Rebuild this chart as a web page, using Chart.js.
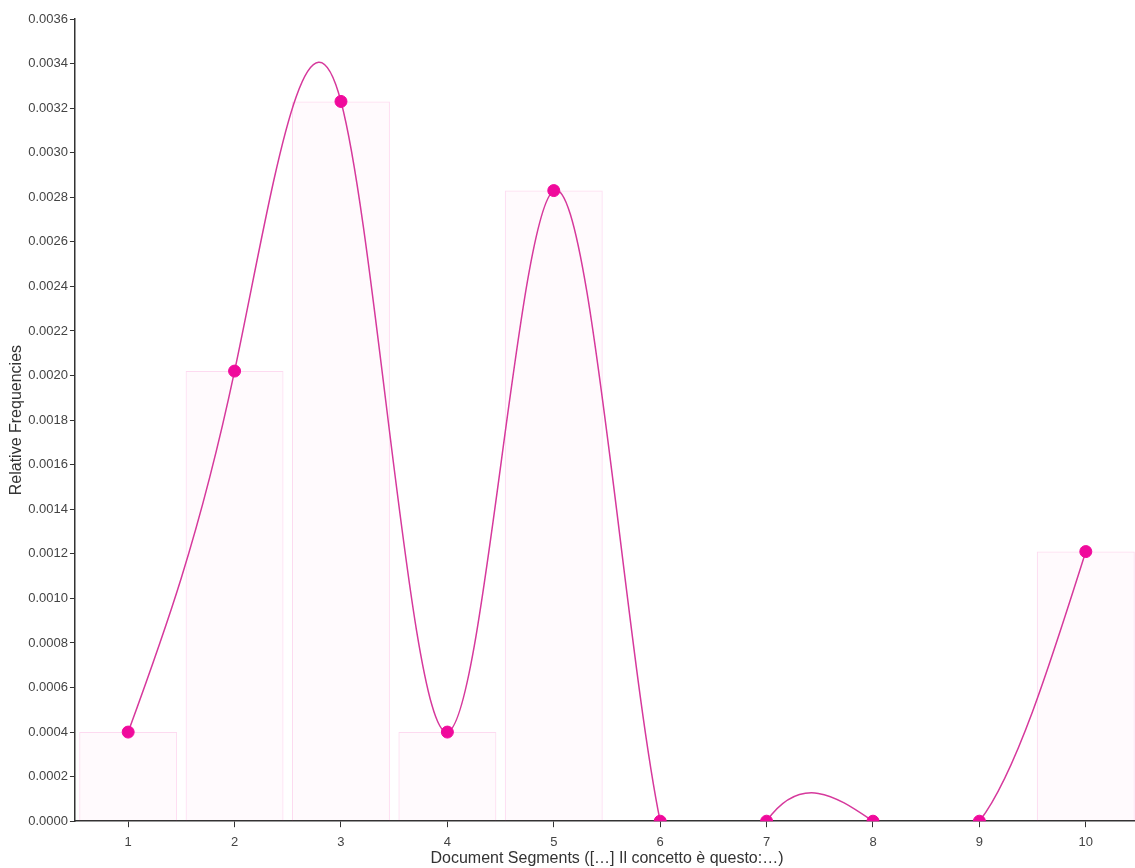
<!DOCTYPE html>
<html lang="en">
<head>
    <meta charset="UTF-8">
    <title>Relative Frequencies</title>
    <script src="https://cdn.jsdelivr.net/npm/chart.js"></script>
    <style>
        html, body { margin: 0; padding: 0; background: #fff; overflow: hidden; }
        #wrap { position: relative; width: 1146px; height: 868px; }
    </style>
</head>
<body>
    <div id="wrap">
        <canvas id="freqChart"></canvas>
    </div>
    <script>
        // Segments and their relative frequencies
        const segments = ['1', '2', '3', '4', '5', '6', '7', '8', '9', '10'];
        const frequencies = [0.0004, 0.00202, 0.00323, 0.0004, 0.00283, 0, 0, 0, 0, 0.00121];
        const yMax = 0.0036;
        const yStep = 0.0002;

        const axisColor = '#333';
        const lineColor = '#d6399c';
        const tickFont = { family: 'Liberation Sans, Arial, sans-serif', size: 13 };
        const titleFont = { family: 'Liberation Sans, Arial, sans-serif', size: 16 };

        // natural cubic spline control points (same maths as d3.curveNatural)
        function controlPoints(x) {
            const n = x.length - 1;
            const a = new Array(n), b = new Array(n), r = new Array(n);
            a[0] = 0; b[0] = 2; r[0] = x[0] + 2 * x[1];
            for (let i = 1; i < n - 1; ++i) { a[i] = 1; b[i] = 4; r[i] = 4 * x[i] + 2 * x[i + 1]; }
            a[n - 1] = 2; b[n - 1] = 7; r[n - 1] = 8 * x[n - 1] + x[n];
            for (let i = 1; i < n; ++i) {
                const m = a[i] / b[i - 1];
                b[i] -= m;
                r[i] -= m * r[i - 1];
            }
            a[n - 1] = r[n - 1] / b[n - 1];
            for (let i = n - 2; i >= 0; --i) a[i] = (r[i] - a[i + 1]) / b[i];
            b[n - 1] = (x[n] + a[n - 1]) / 2;
            for (let i = 0; i < n - 1; ++i) b[i] = 2 * x[i + 1] - a[i + 1];
            return [a, b];
        }

        // draws the smooth line under the points of the line dataset
        const naturalCurve = {
            id: 'naturalCurve',
            beforeDatasetDraw(chart, args) {
                if (args.index !== 0) return;
                const { ctx, chartArea, scales } = chart;
                const xs = frequencies.map((v, i) => scales.x.getPixelForValue(i));
                const ys = frequencies.map(v => scales.y.getPixelForValue(v));
                const px = controlPoints(xs), py = controlPoints(ys);
                ctx.save();
                ctx.beginPath();
                ctx.rect(chartArea.left, chartArea.top, chartArea.right - chartArea.left, chartArea.bottom - chartArea.top);
                ctx.clip();
                ctx.beginPath();
                ctx.moveTo(xs[0], ys[0]);
                for (let i = 0; i < xs.length - 1; i++) {
                    ctx.bezierCurveTo(px[0][i], py[0][i], px[1][i], py[1][i], xs[i + 1], ys[i + 1]);
                }
                ctx.strokeStyle = lineColor;
                ctx.lineWidth = 1.5;
                ctx.stroke();
                ctx.restore();
            }
        };

        const ctx = document.getElementById('freqChart').getContext('2d');
        new Chart(ctx, {
            type: 'bar',
            data: {
                labels: segments,
                datasets: [{
                    type: 'line',
                    data: frequencies,
                    showLine: false,
                    borderColor: lineColor,
                    pointBackgroundColor: '#f00a9c',
                    pointBorderColor: '#f00a9c',
                    pointRadius: 6,
                    fill: false,
                    order: 0
                }, {
                    data: frequencies,
                    backgroundColor: 'rgba(240, 10, 156, 0.02)',
                    borderColor: 'rgba(240, 10, 156, 0.15)',
                    borderWidth: 1,
                    barPercentage: 0.92,
                    categoryPercentage: 1,
                    order: 1
                }]
            },
            options: {
                responsive: true,
                maintainAspectRatio: false,
                animation: false,
                layout: { padding: { top: 19, right: 0, bottom: 0, left: 7 } },
                scales: {
                    x: {
                        offset: true,
                        grid: { display: true, drawOnChartArea: false, tickLength: 6, color: axisColor, offset: false },
                        border: { color: axisColor, width: 1.5 },
                        ticks: { color: '#444', font: tickFont, padding: 7, maxRotation: 0 },
                        title: {
                            display: true,
                            text: 'Document Segments ([…] Il concetto è questo:…)',
                            color: '#333',
                            font: Object.assign({ lineHeight: 0.2 }, titleFont),
                            padding: { top: 0, bottom: 8 }
                        }
                    },
                    y: {
                        min: 0,
                        max: yMax,
                        grid: { display: true, drawOnChartArea: false, tickLength: 5, color: axisColor },
                        border: { color: axisColor, width: 1.5 },
                        ticks: {
                            stepSize: yStep,
                            color: '#444',
                            font: tickFont,
                            padding: 2,
                            callback: v => v.toFixed(4)
                        },
                        title: { display: true, text: 'Relative Frequencies', color: '#333', font: titleFont, padding: { top: 0, bottom: 0 } }
                    }
                },
                plugins: {
                    legend: { display: false },
                    tooltip: { enabled: false }
                }
            },
            plugins: [naturalCurve]
        });
    </script>
</body>
</html>
